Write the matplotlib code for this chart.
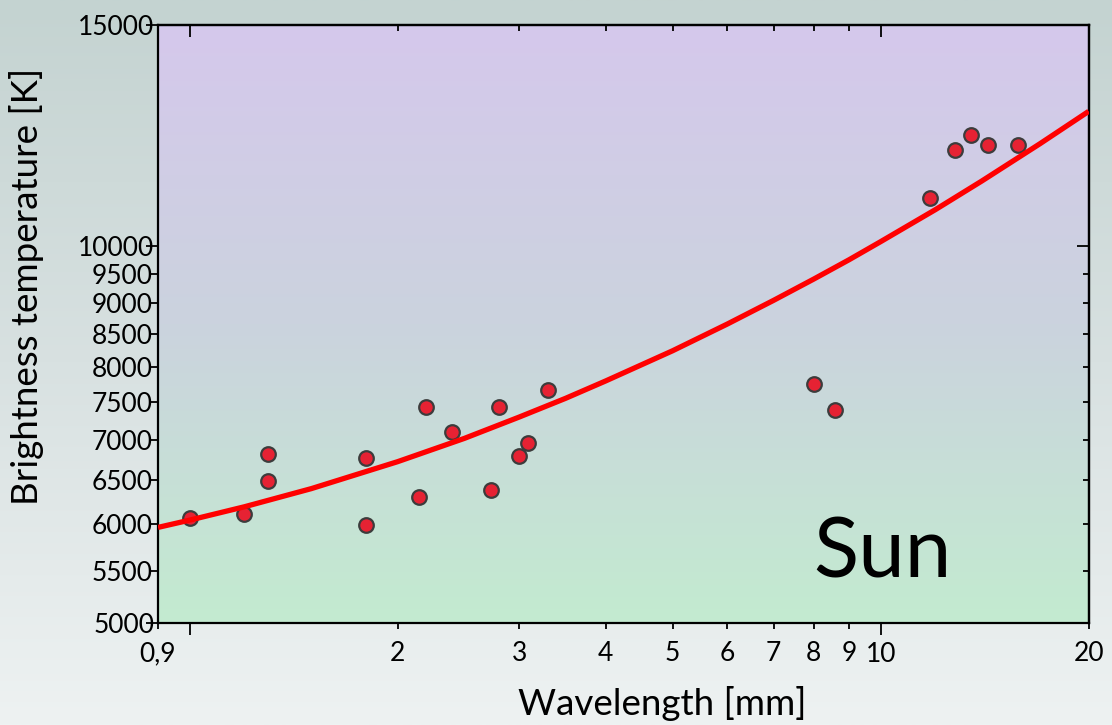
import numpy as np
import matplotlib
matplotlib.use('Agg')
import matplotlib.pyplot as plt
from matplotlib.colors import LinearSegmentedColormap

plt.rcParams['font.family'] = ['Lato', 'DejaVu Sans']

# measured points
wavelength = [1.0, 1.2, 1.3, 1.3, 1.8, 1.8, 2.15, 2.2, 2.4, 2.73, 2.8, 3.0, 3.09, 3.3,
              8.0, 8.6, 11.8, 12.8, 13.5, 14.3, 15.8]
temperature = [6060, 6110, 6815, 6490, 5990, 6770, 6300, 7430, 7100, 6380, 7430, 6800, 6955, 7665,
               7750, 7400, 10920, 11920, 12260, 12040, 12040]

# fitted curve
fit_wl = [0.9, 1.0, 1.2, 1.5, 2.0, 2.5, 3.0, 3.5, 4.0, 5.0, 6.0, 7.0, 8.0, 9.0, 10.0,
          12.0, 14.0, 17.0, 20.0]
fit_t = [5960, 6040, 6190, 6400, 6725, 7020, 7300, 7555, 7800, 8245, 8660, 9045, 9405, 9745, 10075,
         10685, 11260, 12060, 12800]

x_major = [1, 10]
x_minor = [0.9, 2, 3, 4, 5, 6, 7, 8, 9, 20]
x_minor_labels = ['0,9', '2', '3', '4', '5', '6', '7', '8', '9', '20']
y_major = [5000, 10000, 15000]
y_minor = [5500, 6000, 6500, 7000, 7500, 8000, 8500, 9000, 9500]

fig = plt.figure(figsize=(11.12, 7.25), dpi=100)

# figure background gradient
bg = fig.add_axes([0, 0, 1, 1], zorder=-10)
bg_cmap = LinearSegmentedColormap.from_list('bg', ['#c4d3d1', '#d8e1e1', '#eef2f2'])
bg.imshow(np.linspace(0, 1, 256).reshape(-1, 1), cmap=bg_cmap, aspect='auto', extent=[0, 1, 0, 1])
bg.axis('off')

pos = [158 / 1112, 1 - 623 / 725, (1088.7 - 158) / 1112, (623 - 25) / 725]

# plot area gradient
pa = fig.add_axes(pos, zorder=-5)
pa_cmap = LinearSegmentedColormap.from_list('pa', ['#d5c8ec', '#cbd3de', '#c3ebd0'])
pa.imshow(np.linspace(0, 1, 256).reshape(-1, 1), cmap=pa_cmap, aspect='auto', extent=[0, 1, 0, 1])
pa.axis('off')

ax = fig.add_axes(pos)
ax.set_facecolor('none')
ax.set_xscale('log')
ax.set_yscale('log')

ax.plot(wavelength, temperature, 'o', ms=10.5, mfc='#e62233', mec='#3c3c3c', mew=1.6, zorder=3)
ax.plot(fit_wl, fit_t, color='#ff0000', lw=3.8, zorder=4, solid_capstyle='butt')

ax.set_xlim(0.9, 20)
ax.set_ylim(5000, 15000)

for s in ax.spines.values():
    s.set_linewidth(1.6)

ax.set_xticks(x_major, ['', '10'])
ax.set_xticks(x_minor, x_minor_labels, minor=True)
ax.set_yticks(y_major, ['5000', '10000', '15000'])
ax.set_yticks(y_minor, [str(v) for v in y_minor], minor=True)

ax.tick_params(axis='x', which='major', direction='out', length=8.5, width=1.3, pad=5, labelsize=19)
ax.tick_params(axis='x', which='minor', direction='out', length=4.5, width=1.3, pad=8.5, labelsize=19)
ax.tick_params(axis='y', which='major', direction='out', length=8.5, width=1.3, pad=-6, labelsize=19)
ax.tick_params(axis='y', which='minor', direction='out', length=5.5, width=1.3, pad=-1.5, labelsize=19)

# inward ticks on top and right
top = ax.secondary_xaxis('top')
top.set_xticks(x_major, ['', ''])
top.set_xticks([2, 3, 4, 5, 6, 7, 8, 9], [''] * 8, minor=True)
top.tick_params(which='major', direction='in', length=8.5, width=1.3)
top.tick_params(which='minor', direction='in', length=4.5, width=1.3)
top.spines['top'].set_linewidth(1.6)

right = ax.secondary_yaxis('right')
right.set_yticks([10000], [''])
right.set_yticks(y_minor, [''] * len(y_minor), minor=True)
right.tick_params(which='major', direction='in', length=8.5, width=1.3)
right.tick_params(which='minor', direction='in', length=4.5, width=1.3)
right.spines['right'].set_linewidth(1.6)

ax.text(813 / 1112, 1 - 577 / 725, 'Sun', transform=fig.transFigure, fontsize=60,
        ha='left', va='baseline')

fig.text(662 / 1112, 1 - 715 / 725, 'Wavelength [mm]', fontsize=26.5, ha='center', va='baseline')
fig.text(27 / 1112, 1 - 286 / 725, 'Brightness temperature [K]', fontsize=26.5, rotation=90,
         ha='center', va='center')

fig.savefig('out.png', dpi=100)
